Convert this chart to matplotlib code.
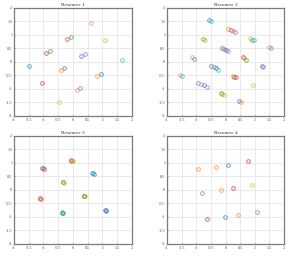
import matplotlib

matplotlib.use("Agg")
import matplotlib.pyplot as plt

# tab10 palette index per marker
PALETTE = plt.get_cmap("tab10").colors
TICKS = [-2, -1.5, -1, -0.5, 0, 0.5, 1, 1.5, 2]
TICK_LABELS = ["-2", "-1.5", "-1", "-0.5", "0", "0.5", "1", "1.5", "2"]

# Resource 1
r1_x = [0.63, -0.07, -0.19, 1.09, -0.79, -0.90, 0.42, 0.29, 1.66, -1.50,
        -0.31, -0.42, 0.95, 0.82, -1.04, 0.24, 0.14, -0.48]
r1_y = [1.44, 0.94, 0.85, 0.83, 0.41, 0.32, 0.30, 0.21, 0.09, -0.14,
        -0.22, -0.31, -0.43, -0.52, -0.77, -0.96, -1.04, -1.50]
r1_c = [6, 2, 3, 8, 2, 3, 4, 0, 9, 0,
        0, 1, 0, 1, 3, 4, 6, 8]

# Resource 2
r2_x = [-0.56, -0.49, 0.10, 0.18, 0.26, 0.34, -0.78, -0.70, 0.85, 0.91,
        0.97, -0.12, -0.05, 0.02, 0.08, 1.50, 1.55, -1.15, -1.07, 0.59,
        0.64, 0.70, 1.24, 1.28, -0.49, -0.41, -0.33, -0.25, -1.57, -1.49,
        0.25, 0.30, 0.35, -0.94, -0.84, -0.74, -0.64, 0.93, -0.17, -0.11,
        -0.05, 0.47, 0.53]
r2_y = [1.54, 1.50, 1.22, 1.18, 1.14, 1.11, 0.84, 0.80, 0.87, 0.83,
        0.80, 0.51, 0.48, 0.44, 0.41, 0.55, 0.50, 0.19, 0.12, 0.17,
        0.13, 0.09, -0.14, -0.18, -0.15, -0.20, -0.24, -0.29, -0.47, -0.51,
        -0.51, -0.54, -0.57, -0.77, -0.82, -0.87, -0.92, -0.85, -1.14, -1.18,
        -1.22, -1.44, -1.47]
r2_c = [0, 9, 1, 3, 6, 4, 2, 8, 8, 2,
        9, 0, 4, 0, 4, 6, 4, 6, 2, 3,
        1, 2, 0, 4, 0, 4, 0, 9, 1, 9,
        1, 3, 5, 4, 6, 0, 4, 8, 2, 1,
        8, 0, 1]

# Resource 3
r3_x = [-0.07, -0.05, -0.02, 0.00, -1.05, -1.02, -0.99, 0.66, 0.68, 0.70,
        -0.34, -0.32, -0.30, 0.37, 0.39, 0.42, -1.13, -1.10, -1.07, 1.10,
        1.11, 1.12, -0.38, -0.36, -0.34]
r3_y = [1.10, 1.09, 1.08, 1.07, 0.81, 0.80, 0.78, 0.62, 0.61, 0.60,
        0.30, 0.29, 0.27, -0.21, -0.22, -0.23, -0.31, -0.32, -0.33, -0.73,
        -0.76, -0.78, -0.83, -0.85, -0.86]
r3_c = [3, 4, 1, 8, 0, 4, 3, 0, 9, 0,
        1, 2, 8, 3, 2, 8, 3, 4, 1, 0,
        4, 0, 9, 2, 0]

# Resource 4
r4_x = [-0.95, -0.33, 0.08, 0.76, 0.92, 0.24, -0.17, -0.81, 1.09, 0.41,
        -0.01, -0.63]
r4_y = [0.76, 0.86, 0.94, 1.07, 0.19, 0.07, 0.00, -0.11, -0.81, -0.92,
        -0.99, -1.07]
r4_c = [1, 1, 0, 3, 8, 3, 1, 4, 4, 1,
        0, 3]

PANELS = [
    ("Resource 1", r1_x, r1_y, r1_c),
    ("Resource 2", r2_x, r2_y, r2_c),
    ("Resource 3", r3_x, r3_y, r3_c),
    ("Resource 4", r4_x, r4_y, r4_c),
]

POSITIONS = [
    [0.048, 0.547, 0.405, 0.422],
    [0.574, 0.547, 0.402, 0.422],
    [0.048, 0.047, 0.405, 0.422],
    [0.574, 0.047, 0.402, 0.422],
]


def draw_panel(ax, title, xs, ys, cs):
    for x, y, c in zip(xs, ys, cs):
        ax.plot(x, y, "o", markersize=2.6, markerfacecolor="none",
                markeredgecolor=PALETTE[c], markeredgewidth=0.55, alpha=0.85)
    ax.set_xlim(-2, 2)
    ax.set_ylim(-2, 2)
    ax.set_xticks(TICKS)
    ax.set_yticks(TICKS)
    ax.set_xticklabels(TICK_LABELS)
    ax.set_yticklabels(TICK_LABELS)
    ax.grid(True, color="#e2e2e2", linewidth=0.5)
    ax.set_axisbelow(True)
    ax.tick_params(labelsize=3, length=1, width=0.4, pad=1.2,
                   colors="#444444", direction="in")
    for side in ("top", "bottom", "left", "right"):
        ax.spines[side].set_color("#7a7a7a")
        ax.spines[side].set_linewidth(0.9)
    ax.set_title(title, fontsize=3.8, pad=1.5, color="#333333")


def main():
    plt.rcParams["font.family"] = ["Liberation Serif", "DejaVu Serif"]
    fig = plt.figure(figsize=(2.91, 2.56), dpi=100)
    for (title, xs, ys, cs), pos in zip(PANELS, POSITIONS):
        ax = fig.add_axes(pos)
        draw_panel(ax, title, xs, ys, cs)
    fig.savefig("out.png", dpi=100)


if __name__ == "__main__":
    main()
